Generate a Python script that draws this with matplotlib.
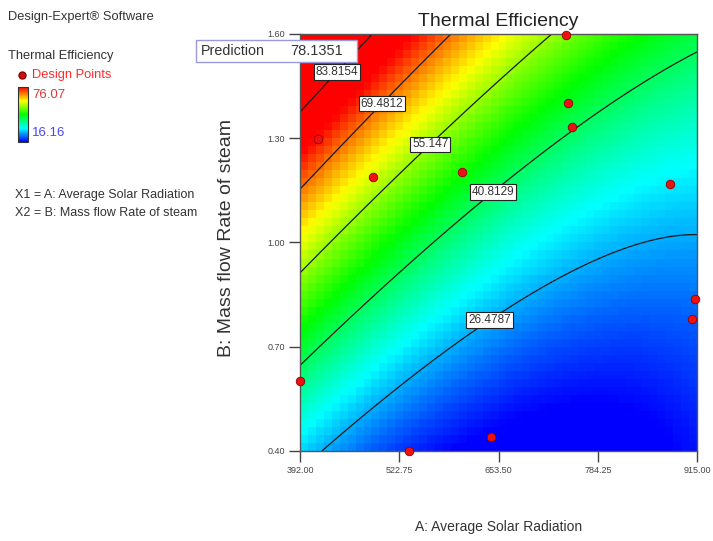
import numpy as np
import matplotlib
matplotlib.use("Agg")
import matplotlib.pyplot as plt
from matplotlib.colors import LinearSegmentedColormap, Normalize
from matplotlib.patches import Rectangle

plt.rcParams['font.family'] = ['Liberation Sans', 'DejaVu Sans']

# factor ranges
a_range = [392.0, 915.0]
b_range = [0.40, 1.60]
x_ticks = [392.00, 522.75, 653.50, 784.25, 915.00]
y_ticks = [0.40, 0.70, 1.00, 1.30, 1.60]

# quadratic model in coded units: b0, A, B, AB, A^2, B^2
coefs = [34.24, -17.10, 23.90, -11.35, 8.86, 4.00]

contour_levels = [26.4787, 40.8129, 55.147, 69.4812, 83.8154]
label_spots = [(639.7, 0.783), (646.3, 1.145), (560.6, 1.289), (496.1, 1.407), (435.5, 1.502)]

# design runs
pts_a = [415.7, 488.2, 605.4, 742.4, 745.0, 750.4, 879.4, 392.0, 535.6, 643.6, 912.4, 908.4]
pts_b = [1.298, 1.189, 1.203, 1.597, 1.401, 1.332, 1.168, 0.601, 0.400, 0.440, 0.837, 0.780]

resp_min, resp_max = 16.16, 76.07
prediction = 78.1351


def model(A, B):
    a = (A - 653.5) / 261.5
    b = (B - 1.0) / 0.6
    c = coefs
    return c[0] + c[1]*a + c[2]*b + c[3]*a*b + c[4]*a**2 + c[5]*b**2


cmap = LinearSegmentedColormap.from_list(
    'de', ['#0000ff', '#00ffff', '#00ff00', '#ffff00', '#ff0000'])
norm = Normalize(resp_min, resp_max)

fig = plt.figure(figsize=(7.13, 5.41), dpi=100)
ax = fig.add_axes([0.4208, 0.1664, 0.5568, 0.7708])

# coarse shaded grid
nx, ny = 50, 52
xe = np.linspace(a_range[0], a_range[1], nx + 1)
ye = np.linspace(b_range[0], b_range[1], ny + 1)
xc = (xe[:-1] + xe[1:]) / 2
yc = (ye[:-1] + ye[1:]) / 2
XC, YC = np.meshgrid(xc, yc)
mesh = ax.pcolormesh(xe, ye, model(XC, YC), cmap=cmap, norm=norm, shading='flat')

# smooth contour lines
xf = np.linspace(a_range[0], a_range[1], 300)
yf = np.linspace(b_range[0], b_range[1], 300)
XF, YF = np.meshgrid(xf, yf)
cs = ax.contour(XF, YF, model(XF, YF), levels=contour_levels, colors='#1a1a1a', linewidths=0.9)
labels = ax.clabel(cs, inline=False, fontsize=8.5, colors='#333333',
                   fmt=lambda v: f'{v:.4f}'.rstrip('0'), manual=label_spots)
for t in labels:
    t.set_rotation(0)
    t.set_bbox(dict(boxstyle='square,pad=0.15', facecolor='white', edgecolor='#222222', linewidth=0.8))

ax.scatter(pts_a, pts_b, s=38, color='#ee1111', edgecolors='#8b0000', linewidths=0.6,
           zorder=5, clip_on=False)

ax.set_xlim(a_range)
ax.set_ylim(b_range)
ax.set_xticks(x_ticks)
ax.set_xticklabels([f'{v:.2f}' for v in x_ticks])
ax.set_yticks(y_ticks)
ax.set_yticklabels([f'{v:.2f}' for v in y_ticks])
ax.tick_params(direction='out', length=8, width=1, colors='#444444', labelsize=6.5, pad=3)
for s in ax.spines.values():
    s.set_color('#555555')
    s.set_linewidth(1)

ax.set_title('Thermal Efficiency', fontsize=14, color='#222222', pad=6)
ax.set_xlabel('A: Average Solar Radiation', fontsize=10, color='#333333')
ax.xaxis.set_label_coords(0.5, -0.182)
ax.xaxis.label.set_va('center')
ax.set_ylabel('B: Mass flow Rate of steam', fontsize=14, color='#333333')
ax.yaxis.set_label_coords(-0.184, 0.51)
ax.yaxis.label.set_va('center')

# legend panel on the left
txt = dict(color='#333333', fontsize=9.3, va='center')
fig.text(8/713, 1 - 17/541, 'Design-Expert® Software', **txt)
fig.text(8/713, 1 - 56/541, 'Thermal Efficiency', **txt)
fig.text(32/713, 1 - 75/541, 'Design Points', color='#ff2a2a', fontsize=9.3, va='center')
fig.add_artist(plt.Line2D([22/713], [1 - 75/541], marker='o', markersize=5,
                          color='#cc1111', markeredgecolor='#8b0000'))
cax = fig.add_axes([18/713, 1 - 142/541, 10/713, 55/541])
cb = fig.colorbar(mesh, cax=cax)
cb.set_ticks([])
cb.outline.set_edgecolor('#333333')
fig.text(32/713, 1 - 95/541, f'{resp_max:.2f}', color='#e03535', fontsize=9.5, va='center')
fig.text(32/713, 1 - 133/541, f'{resp_min:.2f}', color='#4545ff', fontsize=9.5, va='center')
fig.text(15/713, 1 - 195/541, 'X1 = A: Average Solar Radiation', color='#333333', fontsize=9, va='center')
fig.text(15/713, 1 - 213/541, 'X2 = B: Mass flow Rate of steam', color='#333333', fontsize=9, va='center')

# prediction flag box
fig.add_artist(Rectangle((196/713, 1 - 62/541), 161/713, 22/541, transform=fig.transFigure,
                         facecolor='white', edgecolor='#9a9ae0', linewidth=1, zorder=6))
fig.text(201/713, 1 - 51/541, 'Prediction', color='#333333', fontsize=10.3, va='center', zorder=7)
fig.text(290/713, 1 - 51/541, f'{prediction:.4f}', color='#333333', fontsize=10.5, va='center', zorder=7)

fig.savefig('out.png', dpi=100)
